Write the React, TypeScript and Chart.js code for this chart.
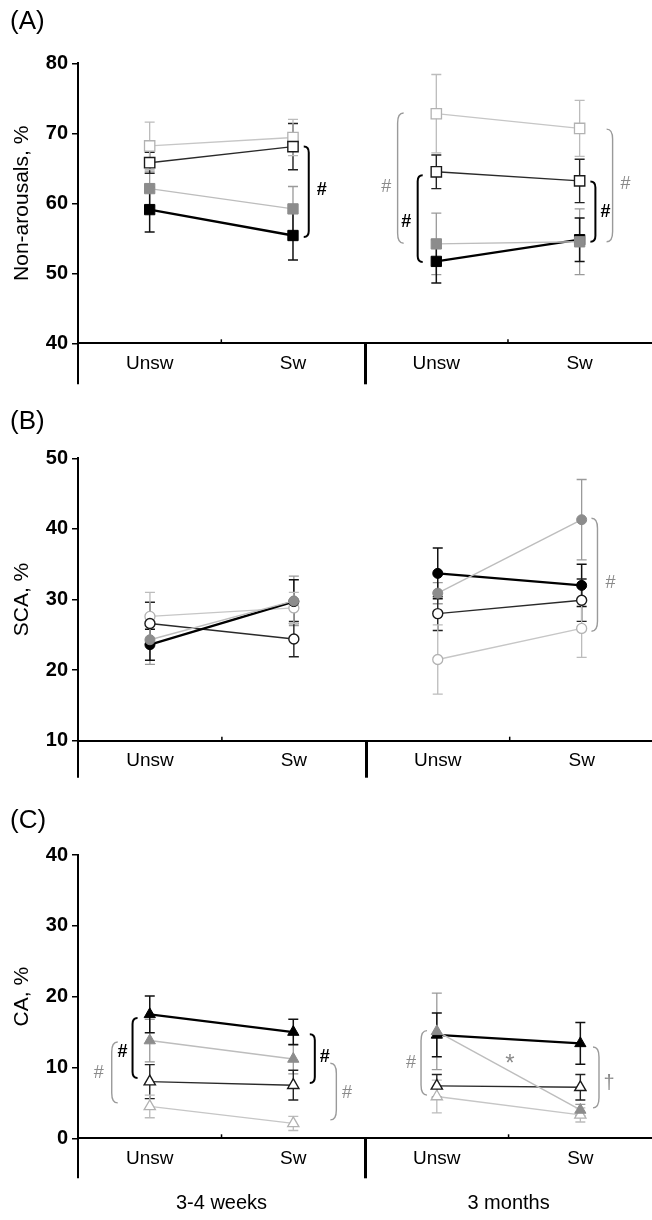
import React, { useEffect, useRef } from "react";
import { Chart, registerables } from "chart.js";

Chart.register(...registerables);

const FONT = "'Liberation Sans', Arial, Helvetica, sans-serif";
Chart.defaults.font.family = FONT;

// ---------- categories / ticks ----------
const CATEGORIES = ["Unsw", "Sw", "Unsw", "Sw"];
const PERIODS = ["3-4 weeks", "3 months"];

// ---------- Panel A: Non-arousals (squares) ----------
// order of values: 3-4 wk Unsw, 3-4 wk Sw, 3 mo Unsw, 3 mo Sw
const A_GREY = [62.1, 59.2, 54.2, 54.5];
const A_GREY_ERR = [2.5, 3.2, 4.4, 4.7];
const A_BLACK = [59.1, 55.4, 51.7, 54.8];
const A_BLACK_ERR = [3.2, 3.5, 3.1, 3.1];
const A_DARKOPEN = [65.8, 68.1, 64.5, 63.2];
const A_DARKOPEN_ERR = [1.5, 3.3, 2.4, 3.1];
const A_LIGHTOPEN = [68.2, 69.4, 72.8, 70.7];
const A_LIGHTOPEN_ERR = [3.4, 2.6, 5.6, 4.0];

// ---------- Panel B: SCA (circles) ----------
const B_GREY = [24.3, 29.8, 30.9, 41.3];
const B_GREY_ERR = [3.5, 3.5, 1.5, 5.7];
const B_BLACK = [23.6, 29.7, 33.7, 32.0];
const B_BLACK_ERR = [2.2, 3.1, 3.6, 3.0];
const B_DARKOPEN = [26.6, 24.4, 28.0, 29.9];
const B_DARKOPEN_ERR = [3.0, 2.5, 2.4, 3.0];
const B_LIGHTOPEN = [27.6, 28.8, 21.5, 25.9];
const B_LIGHTOPEN_ERR = [3.4, 2.2, 4.9, 4.1];

// ---------- Panel C: CA (triangles) ----------
const C_GREY = [13.8, 11.2, 15.1, 4.0];
const C_GREY_ERR = [3.0, 2.1, 5.4, 0.8];
const C_BLACK = [17.5, 15.0, 14.6, 13.4];
const C_BLACK_ERR = [2.6, 1.8, 3.1, 2.95];
const C_DARKOPEN = [8.0, 7.5, 7.4, 7.2];
const C_DARKOPEN_ERR = [2.4, 2.1, 1.6, 1.8];
const C_LIGHTOPEN = [4.5, 2.1, 5.9, 3.3];
const C_LIGHTOPEN_ERR = [1.6, 1.0, 2.3, 1.0];

// ---------- significance annotations (x in axis units, y in data units) ----------
type Note =
  | { kind: "bracket"; x: number; lo: number; hi: number; dir: number; tone: "black" | "grey" }
  | { kind: "text"; x: number; y: number; text: string; tone: "black" | "grey" };

const A_NOTES: Note[] = [
  { kind: "bracket", x: 1.61, lo: 55.2, hi: 68.1, dir: -1, tone: "black" },
  { kind: "text", x: 1.7, y: 61.9, text: "#", tone: "black" },
  { kind: "bracket", x: 2.23, lo: 54.3, hi: 72.9, dir: 1, tone: "grey" },
  { kind: "text", x: 2.15, y: 62.3, text: "#", tone: "grey" },
  { kind: "bracket", x: 2.37, lo: 51.6, hi: 64.0, dir: 1, tone: "black" },
  { kind: "text", x: 2.29, y: 57.3, text: "#", tone: "black" },
  { kind: "bracket", x: 3.61, lo: 54.5, hi: 63.1, dir: -1, tone: "black" },
  { kind: "text", x: 3.68, y: 58.8, text: "#", tone: "black" },
  { kind: "bracket", x: 3.73, lo: 54.5, hi: 70.6, dir: -1, tone: "grey" },
  { kind: "text", x: 3.82, y: 62.8, text: "#", tone: "grey" },
];

const B_NOTES: Note[] = [
  { kind: "bracket", x: 3.61, lo: 25.5, hi: 41.5, dir: -1, tone: "grey" },
  { kind: "text", x: 3.7, y: 32.3, text: "#", tone: "grey" },
];

const C_NOTES: Note[] = [
  { kind: "bracket", x: 0.38, lo: 8.5, hi: 17.0, dir: 1, tone: "black" },
  { kind: "text", x: 0.31, y: 12.2, text: "#", tone: "black" },
  { kind: "bracket", x: 0.235, lo: 5.0, hi: 13.6, dir: 1, tone: "grey" },
  { kind: "text", x: 0.145, y: 9.2, text: "#", tone: "grey" },
  { kind: "bracket", x: 1.65, lo: 7.8, hi: 14.7, dir: -1, tone: "black" },
  { kind: "text", x: 1.72, y: 11.5, text: "#", tone: "black" },
  { kind: "bracket", x: 1.8, lo: 2.6, hi: 10.6, dir: -1, tone: "grey" },
  { kind: "text", x: 1.875, y: 6.4, text: "#", tone: "grey" },
  { kind: "bracket", x: 2.39, lo: 6.1, hi: 15.2, dir: 1, tone: "grey" },
  { kind: "text", x: 2.32, y: 10.6, text: "#", tone: "grey" },
  { kind: "bracket", x: 3.63, lo: 4.3, hi: 12.9, dir: -1, tone: "grey" },
  { kind: "text", x: 3.7, y: 7.8, text: "†", tone: "grey" },
  { kind: "text", x: 3.01, y: 10.4, text: "*", tone: "grey" },
];

// ---------- series styles (first = drawn on top) ----------
const SERIES_STYLES = [
  { line: "#bdbdbd", lineWidth: 1.4, fill: "#8c8c8c", border: "#8c8c8c", borderWidth: 1, err: "#9a9a9a", errWidth: 1.3 },
  { line: "#000000", lineWidth: 2.3, fill: "#000000", border: "#000000", borderWidth: 1, err: "#111111", errWidth: 1.5 },
  { line: "#2a2a2a", lineWidth: 1.4, fill: "#ffffff", border: "#1a1a1a", borderWidth: 1.4, err: "#222222", errWidth: 1.4 },
  { line: "#c6c6c6", lineWidth: 1.3, fill: "#ffffff", border: "#b2b2b2", borderWidth: 1.3, err: "#bcbcbc", errWidth: 1.3 },
];

const GREY_TONE = "#9a9a9a";
const GREY_TEXT = "#8a8a8a";

function catX(i: number) {
  return i + 0.5;
}

function buildDatasets(means: number[][], errs: number[][], pointStyle: string, radius: number) {
  const out: any[] = [];
  means.forEach((m, s) => {
    const st = SERIES_STYLES[s];
    for (let g = 0; g < 2; g++) {
      const a = 2 * g;
      const b = 2 * g + 1;
      out.push({
        data: [
          { x: catX(a), y: m[a] },
          { x: catX(b), y: m[b] },
        ],
        errors: [errs[s][a], errs[s][b]],
        errColor: st.err,
        errWidth: st.errWidth,
        borderColor: st.line,
        borderWidth: st.lineWidth,
        backgroundColor: st.fill,
        pointBackgroundColor: st.fill,
        pointBorderColor: st.border,
        pointBorderWidth: st.borderWidth,
        pointStyle,
        pointRadius: radius,
        pointHoverRadius: radius,
        fill: false,
        tension: 0,
        showLine: true,
      });
    }
  });
  return out;
}

function makeDecor(ext: number, notes: Note[]) {
  return {
    id: "decor",
    beforeDatasetsDraw(chart: any) {
      const { ctx } = chart;
      const xs = chart.scales.x;
      const ys = chart.scales.y;
      ctx.save();
      chart.data.datasets.forEach((ds: any) => {
        ds.data.forEach((p: any, j: number) => {
          const e = ds.errors[j];
          const px = xs.getPixelForValue(p.x);
          const top = ys.getPixelForValue(p.y + e);
          const bot = ys.getPixelForValue(p.y - e);
          ctx.strokeStyle = ds.errColor;
          ctx.lineWidth = ds.errWidth;
          ctx.beginPath();
          ctx.moveTo(px, top);
          ctx.lineTo(px, bot);
          ctx.moveTo(px - 5, top);
          ctx.lineTo(px + 5, top);
          ctx.moveTo(px - 5, bot);
          ctx.lineTo(px + 5, bot);
          ctx.stroke();
        });
      });
      ctx.restore();
    },
    afterDraw(chart: any) {
      const { ctx, chartArea } = chart;
      const xs = chart.scales.x;
      const ys = chart.scales.y;
      const bottom = chartArea.bottom;
      ctx.save();
      ctx.strokeStyle = "#000";
      // y axis continues below the x axis
      ctx.lineWidth = 2;
      ctx.beginPath();
      ctx.moveTo(chartArea.left, bottom);
      ctx.lineTo(chartArea.left, bottom + ext);
      ctx.stroke();
      // separator between the two periods
      ctx.lineWidth = 3;
      const sx = Math.round(xs.getPixelForValue(2)) + 0.5;
      ctx.beginPath();
      ctx.moveTo(sx, bottom);
      ctx.lineTo(sx, bottom + ext);
      ctx.stroke();
      // small ticks between Unsw and Sw
      ctx.lineWidth = 1.5;
      [1, 3].forEach((v) => {
        const tx = xs.getPixelForValue(v);
        ctx.beginPath();
        ctx.moveTo(tx, bottom);
        ctx.lineTo(tx, bottom - 4);
        ctx.stroke();
      });
      // annotations
      notes.forEach((n) => {
        const color = n.tone === "black" ? "#000" : GREY_TONE;
        if (n.kind === "bracket") {
          const bx = xs.getPixelForValue(n.x);
          const top = ys.getPixelForValue(n.hi);
          const bot = ys.getPixelForValue(n.lo);
          const w = (n.tone === "black" ? 5 : 6) * n.dir;
          const r = n.tone === "black" ? 6 : 10;
          ctx.strokeStyle = color;
          ctx.lineWidth = n.tone === "black" ? 2 : 1.4;
          ctx.beginPath();
          ctx.moveTo(bx + w, top);
          ctx.quadraticCurveTo(bx, top, bx, top + r);
          ctx.lineTo(bx, bot - r);
          ctx.quadraticCurveTo(bx, bot, bx + w, bot);
          ctx.stroke();
        } else {
          const tx = xs.getPixelForValue(n.x);
          const ty = ys.getPixelForValue(n.y);
          let size = 18;
          if (n.text === "†") size = 20;
          if (n.text === "*") size = 24;
          ctx.fillStyle = n.tone === "black" ? "#000" : GREY_TEXT;
          ctx.font = `${n.tone === "black" ? "bold " : ""}${size}px ${FONT}`;
          ctx.textAlign = "center";
          ctx.textBaseline = "middle";
          ctx.fillText(n.text, tx, ty);
        }
      });
      ctx.restore();
    },
  };
}

interface PanelCfg {
  label: string;
  yTitle: string;
  yMin: number;
  yMax: number;
  step: number;
  means: number[][];
  errs: number[][];
  pointStyle: string;
  radius: number;
  titlePad: { top: number; bottom: number };
  height: number;
  xHeight: number;
  ext: number;
  notes: Note[];
  periods?: boolean;
  x2Height?: number;
}

const PANELS: PanelCfg[] = [
  {
    label: "(A)",
    yTitle: "Non-arousals, %",
    yMin: 40,
    yMax: 80,
    step: 10,
    means: [A_GREY, A_BLACK, A_DARKOPEN, A_LIGHTOPEN],
    errs: [A_GREY_ERR, A_BLACK_ERR, A_DARKOPEN_ERR, A_LIGHTOPEN_ERR],
    pointStyle: "rect",
    radius: 7.3,
    titlePad: { top: 6.4, bottom: 25.7 },
    height: 400,
    xHeight: 56.7,
    ext: 41,
    notes: A_NOTES,
  },
  {
    label: "(B)",
    yTitle: "SCA, %",
    yMin: 10,
    yMax: 50,
    step: 10,
    means: [B_GREY, B_BLACK, B_DARKOPEN, B_LIGHTOPEN],
    errs: [B_GREY_ERR, B_BLACK_ERR, B_DARKOPEN_ERR, B_LIGHTOPEN_ERR],
    pointStyle: "circle",
    radius: 5,
    titlePad: { top: 6.4, bottom: 20.7 },
    height: 400,
    xHeight: 59.3,
    ext: 37,
    notes: B_NOTES,
  },
  {
    label: "(C)",
    yTitle: "CA, %",
    yMin: 0,
    yMax: 40,
    step: 10,
    means: [C_GREY, C_BLACK, C_DARKOPEN, C_LIGHTOPEN],
    errs: [C_GREY_ERR, C_BLACK_ERR, C_DARKOPEN_ERR, C_LIGHTOPEN_ERR],
    pointStyle: "triangle",
    radius: 6.5,
    titlePad: { top: 5, bottom: 18.8 },
    height: 420,
    xHeight: 40,
    ext: 40,
    notes: C_NOTES,
    periods: true,
    x2Height: 41.7,
  },
];

function Panel({ cfg, top }: { cfg: PanelCfg; top: number }) {
  const ref = useRef<HTMLCanvasElement | null>(null);
  useEffect(() => {
    if (!ref.current) return;
    const scales: any = {
      x: {
        type: "linear",
        min: 0,
        max: 4,
        position: "bottom",
        weight: 0,
        afterBuildTicks: (s: any) => {
          s.ticks = CATEGORIES.map((_, i) => ({ value: catX(i) }));
        },
        afterFit: (s: any) => {
          s.height = cfg.xHeight;
        },
        ticks: {
          callback: (_v: any, i: number) => CATEGORIES[i],
          color: "#000",
          font: { size: 19 },
          padding: 9,
          autoSkip: false,
          maxRotation: 0,
        },
        grid: { display: false, drawTicks: false },
        border: { display: true, color: "#000", width: 2 },
      },
      y: {
        type: "linear",
        min: cfg.yMin,
        max: cfg.yMax,
        afterFit: (s: any) => {
          s.width = 68;
        },
        ticks: {
          stepSize: cfg.step,
          color: "#000",
          font: { size: 20, weight: "bold" },
          padding: 4,
        },
        grid: {
          display: true,
          drawOnChartArea: false,
          drawTicks: true,
          tickLength: 6,
          color: "#000",
          lineWidth: 1.5,
        },
        border: { display: true, color: "#000", width: 2 },
        title: {
          display: true,
          text: cfg.yTitle,
          color: "#000",
          font: { size: 21 },
          padding: { top: 0, bottom: 0 },
        },
      },
    };
    if (cfg.periods) {
      scales.x2 = {
        type: "linear",
        min: 0,
        max: 4,
        position: "bottom",
        weight: 1,
        afterBuildTicks: (s: any) => {
          s.ticks = PERIODS.map((_, i) => ({ value: 2 * i + 1 }));
        },
        afterFit: (s: any) => {
          s.height = cfg.x2Height;
        },
        ticks: {
          callback: (_v: any, i: number) => PERIODS[i],
          color: "#000",
          font: { size: 20 },
          padding: 13,
          autoSkip: false,
          maxRotation: 0,
        },
        grid: { display: false, drawTicks: false },
        border: { display: false },
      };
    }
    const chart = new Chart(ref.current, {
      type: "line",
      data: { datasets: buildDatasets(cfg.means, cfg.errs, cfg.pointStyle, cfg.radius) },
      options: {
        responsive: false,
        animation: false,
        events: [],
        layout: { padding: { left: 10, right: 4, top: 0, bottom: 0 } },
        plugins: {
          legend: { display: false },
          tooltip: { enabled: false },
          title: {
            display: true,
            text: cfg.label,
            align: "start",
            color: "#000",
            font: { size: 26, weight: "normal" },
            padding: cfg.titlePad,
          },
        },
        scales,
      } as any,
      plugins: [makeDecor(cfg.ext, cfg.notes)],
    });
    return () => chart.destroy();
  }, [cfg]);
  return (
    <canvas
      ref={ref}
      width={660}
      height={cfg.height}
      style={{ position: "absolute", left: 0, top, width: 660, height: cfg.height }}
    />
  );
}

export default function App() {
  const tops = [0, 400, 800];
  return (
    <div
      style={{
        position: "absolute",
        left: 0,
        top: 0,
        width: 652,
        height: 1220,
        overflow: "hidden",
        background: "#fff",
      }}
    >
      {PANELS.map((p, i) => (
        <Panel key={p.label} cfg={p} top={tops[i]} />
      ))}
    </div>
  );
}
